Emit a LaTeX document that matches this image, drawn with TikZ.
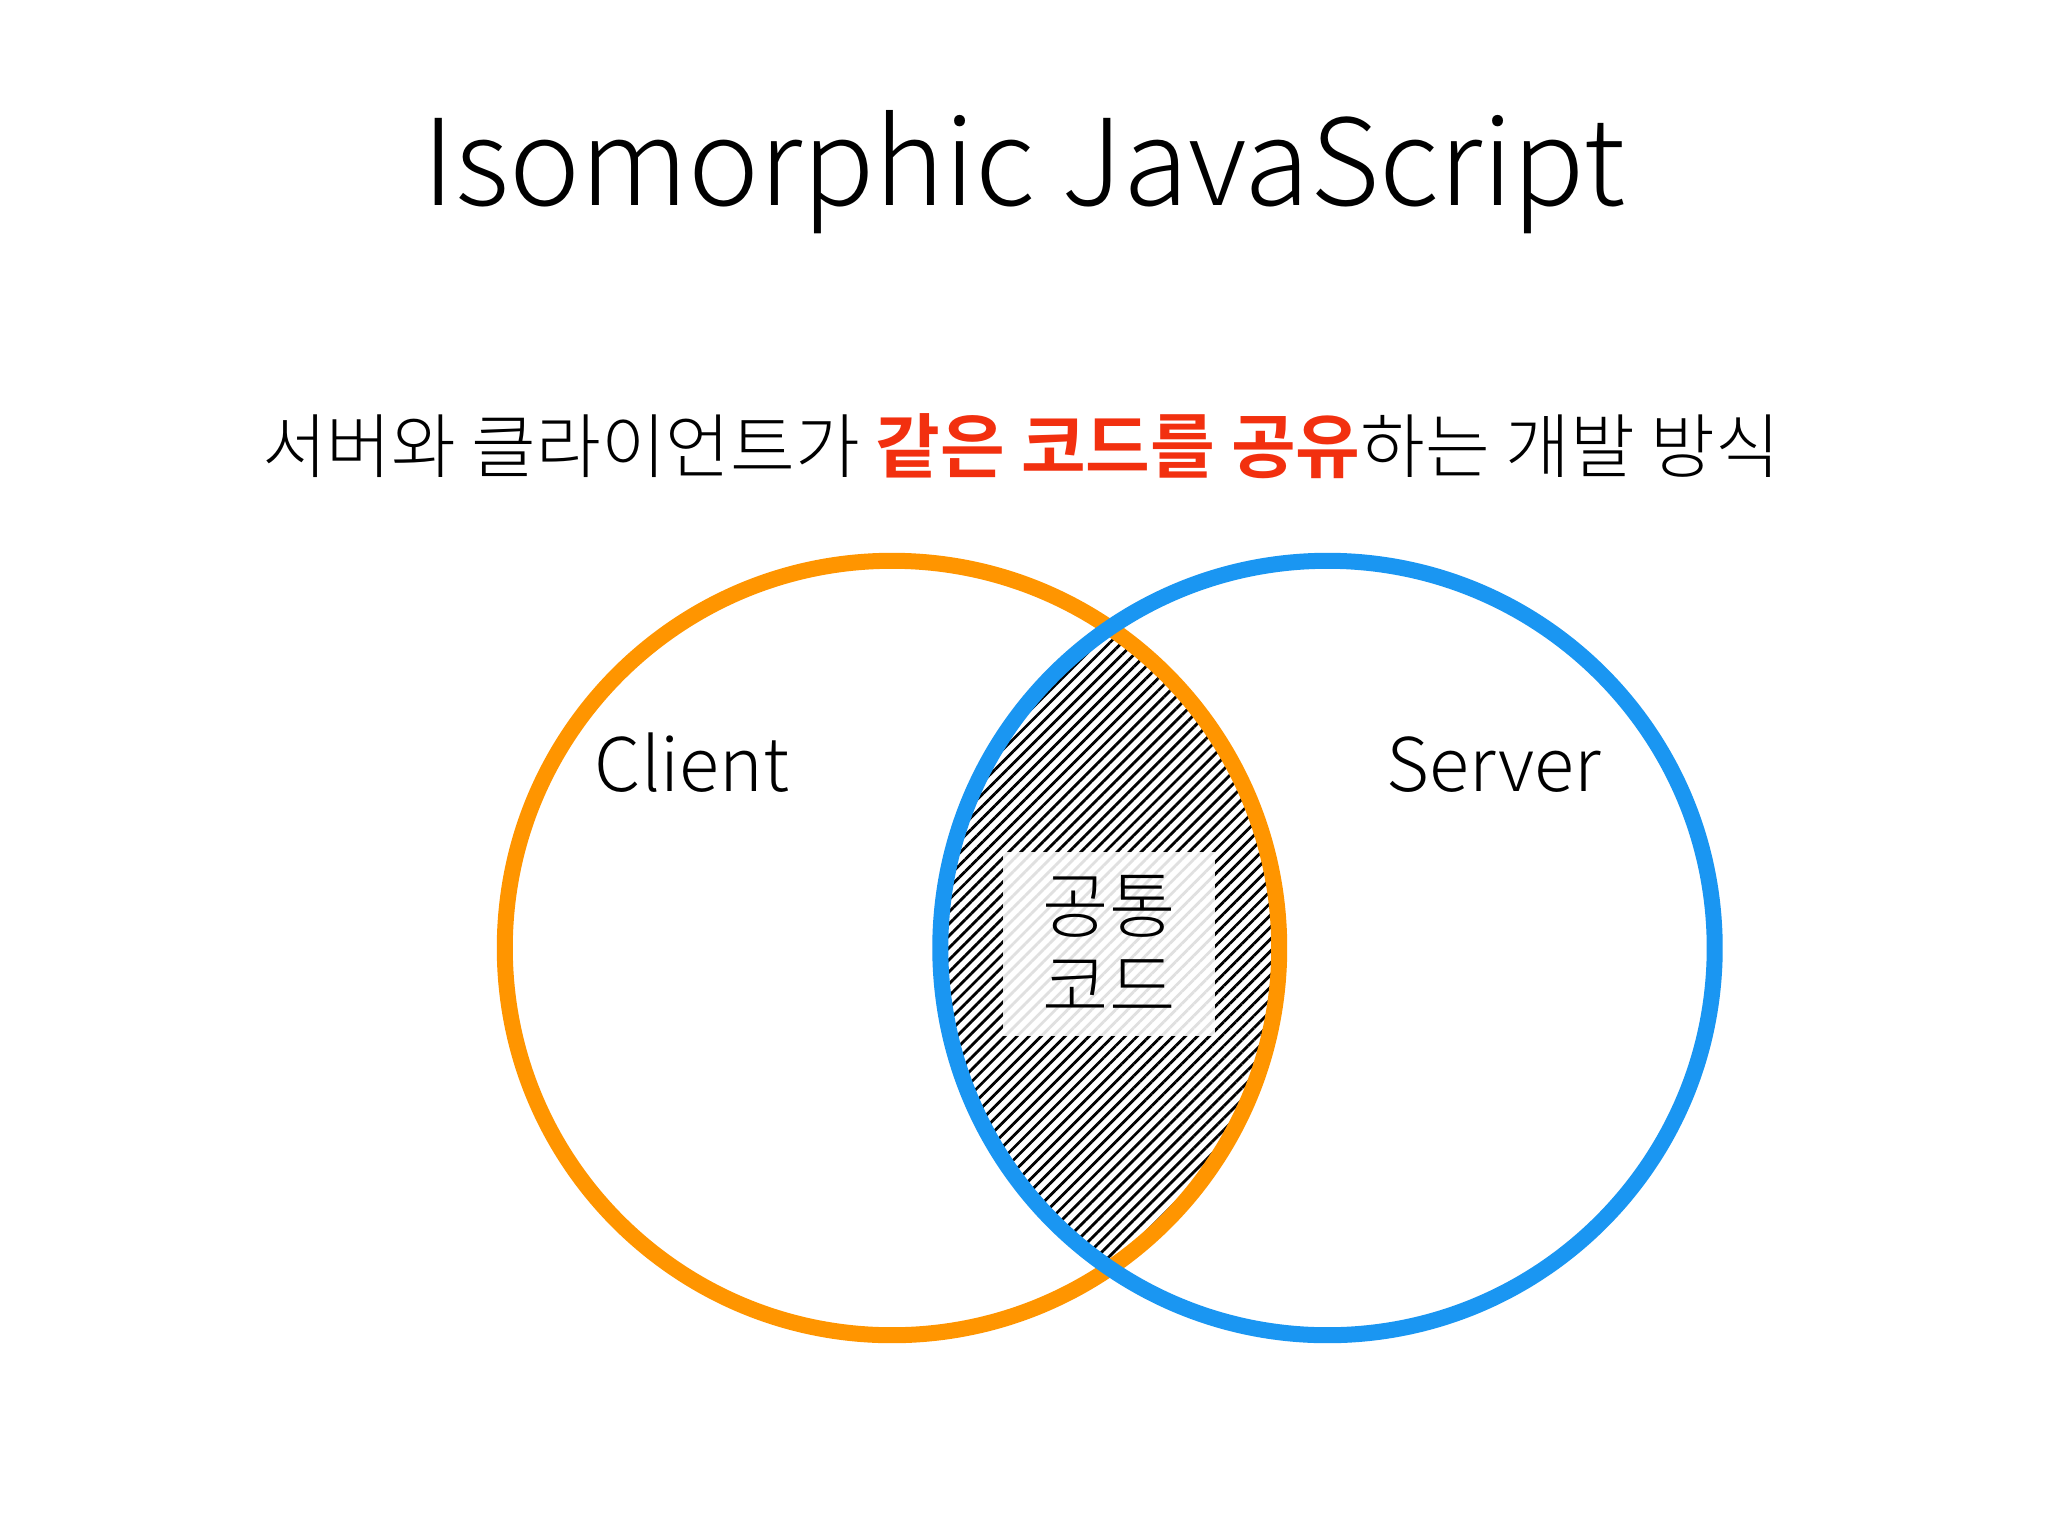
\documentclass[tikz,border=0pt]{standalone}
\usepackage{fontspec}
\setmainfont{Noto Sans CJK KR}[UprightFont={* Light}, BoldFont={* Bold}]
\usetikzlibrary{positioning, patterns.meta}
\definecolor{MyOrange}{HTML}{FF9500}
\definecolor{MyBlue}{HTML}{1A96F2}
\definecolor{MyRed}{HTML}{F2300F}

\begin{document}
\begin{tikzpicture}[x=0.01cm, y=-0.01cm,
		set/.style={circle, draw, line width=0.16cm, minimum size=7.74cm, inner sep=0pt},
		label/.style={anchor=base, inner sep=0pt, font=\fontsize{21}{25}\selectfont},
		hatch/.style={pattern={Lines[angle=45, distance=0.085cm, line width=0.028cm]}}
	]
	\useasboundingbox[fill=white] (0,0) rectangle (2048,1536);

	\node (title) [anchor=base, inner sep=0pt, font=\fontsize{34}{40}\selectfont] at (1024,205) {Isomorphic JavaScript};
	\node (subtitle) [anchor=base, inner sep=0pt, font=\fontsize{20}{24}\selectfont] at (1021,472)
		{서버와 클라이언트가 \textcolor{MyRed}{\textbf{같은 코드를 공유}}하는 개발 방식};

	\coordinate (clientC) at (892,948);
	\coordinate (serverC) at (1327.5,948);

	% shared part
	\begin{scope}
		\clip (clientC) circle[radius=3.87cm];
		\fill[hatch] (serverC) circle[radius=3.87cm];
	\end{scope}
	\node (shared) [fill=white, fill opacity=.88, text opacity=1, minimum width=2.12cm, minimum height=1.83cm,
		align=center, font=\fontsize{20.5}{22.8}\selectfont] at (1109,944) {공통\\코드};

	\node (client) [set, draw=MyOrange] at (clientC) {};
	\node (server) [set, draw=MyBlue] at (serverC) {};

	\node (clientLabel) [label] at (692,791) {Client};
	\node (serverLabel) [label] at (1494,791) {Server};
\end{tikzpicture}
\end{document}
